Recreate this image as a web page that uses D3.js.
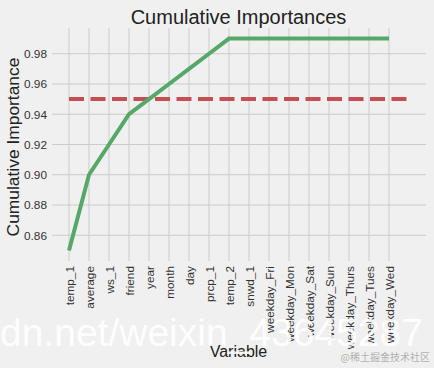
<!DOCTYPE html>
<html>
<head>
<meta charset="utf-8">
<script src="https://cdn.jsdelivr.net/npm/d3@7"></script>
<style>
  body { margin: 0; background: #f0f0f0; }
  svg { display: block; font-family: "Liberation Sans", Arial, sans-serif; }
</style>
</head>
<body>
<div class="chart"></div>
<script>
var variables = ["temp_1", "average", "ws_1", "friend", "year", "month", "day", "prcp_1", "temp_2",
    "snwd_1", "weekday_Fri", "weekday_Mon", "weekday_Sat", "weekday_Sun", "weekday_Thurs", "weekday_Tues", "weekday_Wed"];
var cumulative = [0.85, 0.90, 0.92, 0.94, 0.95, 0.96, 0.97, 0.98, 0.99,
    0.99, 0.99, 0.99, 0.99, 0.99, 0.99, 0.99, 0.99];
var yTicks = [0.86, 0.88, 0.90, 0.92, 0.94, 0.96, 0.98];
var threshold = 0.95;

var svgWidth = 434, svgHeight = 368;
var margin = { top: 28, right: 8, bottom: 107, left: 52 };
var width = svgWidth - margin.left - margin.right;
var height = svgHeight - margin.top - margin.bottom;

var svg = d3.select(".chart")
    .append("svg")
    .attr("width", svgWidth)
    .attr("height", svgHeight);

svg.append("rect")
    .attr("width", svgWidth)
    .attr("height", svgHeight)
    .attr("fill", "#f0f0f0");

var chart = svg.append("g")
    .attr("transform", "translate(" + margin.left + "," + margin.top + ")");

// x is positional index, padded like matplotlib margins
var n = variables.length;
var xScale = d3.scaleLinear()
    .domain([-0.85, n + 0.85])
    .range([0, width]);

var yScale = d3.scaleLinear()
    .domain([0.843, 0.997])
    .range([height, 0]);

// grid
chart.append("g")
    .selectAll("line")
    .data(yTicks)
    .enter()
    .append("line")
    .attr("x1", 0)
    .attr("x2", width)
    .attr("y1", d => yScale(d))
    .attr("y2", d => yScale(d))
    .attr("stroke", "#cbcbcb")
    .attr("stroke-width", 1);

chart.append("g")
    .selectAll("line")
    .data(variables)
    .enter()
    .append("line")
    .attr("x1", (d, i) => xScale(i))
    .attr("x2", (d, i) => xScale(i))
    .attr("y1", 0)
    .attr("y2", height)
    .attr("stroke", "#cbcbcb")
    .attr("stroke-width", 1);

// y axis labels
var leftAxis = d3.axisLeft(yScale)
    .tickValues(yTicks)
    .tickFormat(d3.format(".2f"))
    .tickSize(0)
    .tickPadding(5);

var yAxis = chart.append("g").call(leftAxis);
yAxis.select(".domain").remove();
yAxis.selectAll("text")
    .attr("font-size", 11.8)
    .attr("font-family", "Liberation Sans, Arial, sans-serif")
    .attr("fill", "#333");

// x axis labels (rotated)
var bottomAxis = d3.axisBottom(xScale)
    .tickValues(d3.range(n))
    .tickFormat(i => variables[i])
    .tickSize(0)
    .tickPadding(0);

var xAxis = chart.append("g")
    .attr("transform", "translate(0," + height + ")")
    .call(bottomAxis);
xAxis.select(".domain").remove();
xAxis.selectAll("text")
    .attr("font-size", 11.8)
    .attr("font-family", "Liberation Sans, Arial, sans-serif")
    .attr("fill", "#333")
    .attr("transform", "rotate(-90)")
    .attr("text-anchor", "end")
    .attr("x", -5)
    .attr("y", 0)
    .attr("dy", "0.35em");

// threshold line
chart.append("line")
    .attr("x1", xScale(0))
    .attr("x2", xScale(n))
    .attr("y1", yScale(threshold))
    .attr("y2", yScale(threshold))
    .attr("stroke", "#c44e52")
    .attr("stroke-width", 4)
    .attr("stroke-dasharray", "15,6.5");

// cumulative line
var line = d3.line()
    .x((d, i) => xScale(i))
    .y(d => yScale(d));

chart.append("path")
    .datum(cumulative)
    .attr("d", line)
    .attr("fill", "none")
    .attr("stroke", "#55a868")
    .attr("stroke-width", 4)
    .attr("stroke-linejoin", "miter");

// title and axis titles
svg.append("text")
    .attr("x", 238.5)
    .attr("y", 24)
    .attr("text-anchor", "middle")
    .attr("font-size", 20)
    .attr("fill", "#222")
    .text("Cumulative Importances");

svg.append("text")
    .attr("transform", "rotate(-90)")
    .attr("x", -147)
    .attr("y", 19)
    .attr("text-anchor", "middle")
    .attr("font-size", 17.4)
    .attr("fill", "#222")
    .text("Cumulative Importance");

svg.append("text")
    .attr("x", 238.5)
    .attr("y", 357)
    .attr("text-anchor", "middle")
    .attr("font-size", 16)
    .attr("fill", "#222")
    .text("Variable");

// watermark sits on top of the chart
svg.append("text")
    .attr("x", 0)
    .attr("y", 346)
    .attr("font-size", 39)
    .attr("fill", "#ffffff")
    .attr("fill-opacity", 0.92)
    .text("dn.net/weixin_43645287");

svg.append("text")
    .attr("x", 430)
    .attr("y", 361)
    .attr("text-anchor", "end")
    .attr("font-size", 10)
    .attr("font-family", "Noto Sans CJK SC, sans-serif")
    .attr("fill", "#b0b0b0")
    .text("@稀土掘金技术社区");
</script>
</body>
</html>
